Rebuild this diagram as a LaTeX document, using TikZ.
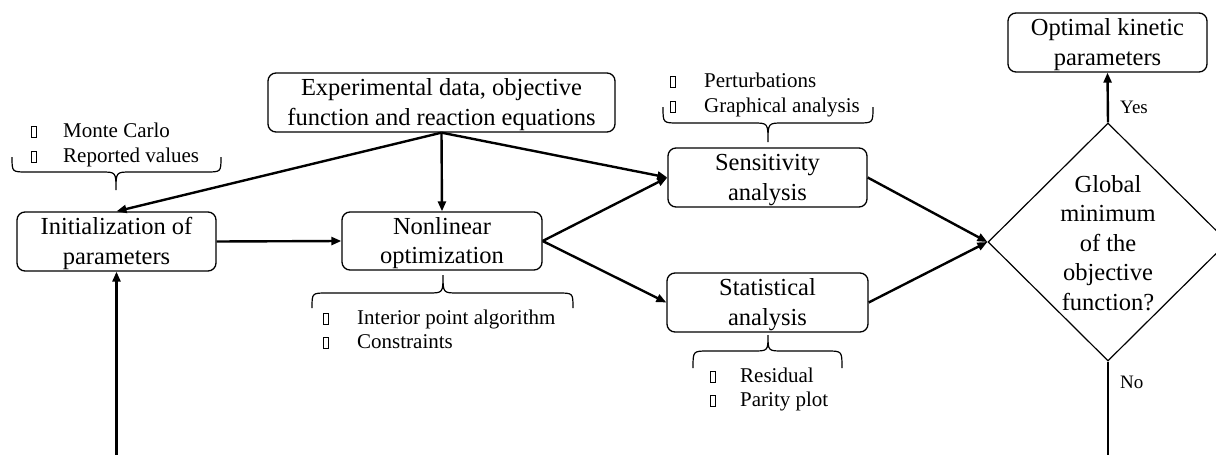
\documentclass[tikz,border=0pt]{standalone}
\usepackage{fontspec}
\setmainfont{Liberation Serif}
\usetikzlibrary{arrows.meta,shapes.geometric}
\newcommand\bigf{\fontsize{24.5}{29.5}\selectfont}
\newcommand\smallf{\fontsize{21}{25}\selectfont}
\newcommand\tstrut{\rule{0pt}{21.5pt}}
\newcommand\bulbox{{\setlength\fboxsep{0pt}\setlength\fboxrule{0.8pt}\fbox{\rule{0pt}{10.5pt}\rule{3.8pt}{0pt}}}}
\newcommand\bul[1]{\makebox[#1pt][l]{\bulbox}}
\newcommand\wbrace[6]{\draw[bracestyle] (#1,#3) .. controls (#1,#4) .. ({#1+15},#4) -- ({#6-15},#4) .. controls (#6,#4) .. (#6,#5) .. controls (#6,#4) .. ({#6+15},#4) -- ({#2-15},#4) .. controls (#2,#4) .. (#2,#3);}
\tikzset{
  box/.style={draw, line width=1.3pt, rounded corners=8pt, minimum width=199pt, minimum height=59pt, inner sep=0pt, align=center, font=\bigf},
  arr/.style={line width=2.4pt, -{Triangle[length=10pt,width=8pt]}},
  item/.style={anchor=base west, inner sep=0pt, font=\smallf},
  lab/.style={anchor=base west, inner sep=0pt, font=\fontsize{19}{22}\selectfont},
  bracestyle/.style={line width=1.2pt}
}
\begin{document}
\begin{tikzpicture}[x=1pt,y=-1pt]
\useasboundingbox (0,0) rectangle (1216,455);
\clip (0,0) rectangle (1216,455);
% boxes
\node[box, minimum width=347pt] (exp) at (441.5,102.5) {\tstrut Experimental data, objective\\function and reaction equations};
\node[box] (init) at (116.5,241.5) {\tstrut Initialization of\\parameters};
\node[box, minimum width=200pt, minimum height=58pt] (nonlin) at (442,241) {\tstrut Nonlinear\\optimization};
\node[box] (sens) at (767.5,177.5) {\tstrut Sensitivity\\analysis};
\node[box, minimum width=201pt] (stat) at (767.5,302.5) {\tstrut Statistical\\analysis};
\node[box] (opt) at (1107.5,42.5) {\tstrut Optimal kinetic\\parameters};
\node[draw, diamond, line width=1.2pt, minimum width=240pt, minimum height=238pt, inner sep=0pt] (dia) at (1108,242) {};
\node[align=center, inner sep=0pt, font=\bigf] (dtext) at (1108,243) {Global\\minimum\\of the\\objective\\function?};
% lists
\node[item] (i1) at (31,137) {\bul{32}Monte Carlo};
\node[item] (i2) at (31,162) {\bul{32}Reported values};
\node[item] (s1) at (670,87) {\bul{34}Perturbations};
\node[item] (s2) at (670,112) {\bul{34}Graphical analysis};
\node[item] (n1) at (323,324) {\bul{34}Interior point algorithm};
\node[item] (n2) at (323,348) {\bul{34}Constraints};
\node[item] (t1) at (710,382) {\bul{30}Residual};
\node[item] (t2) at (710,406) {\bul{30}Parity plot};
% braces
\wbrace{12}{221}{157}{172}{190}{116}
\wbrace{663}{873}{107}{123}{142}{768}
\wbrace{312}{573}{308}{293}{275}{443}
\wbrace{693}{842}{368}{351}{335}{768}
% connectors
\draw[arr] (exp.south) -- (init.north);
\draw[arr] (exp.south) -- (nonlin.north);
\draw[arr] (exp.south) -- (sens.west);
\draw[arr] (init.east) -- (nonlin.west);
\draw[arr] (nonlin.east) -- (sens.west);
\draw[arr] (nonlin.east) -- (stat.west);
\draw[arr] (sens.east) -- (dia.west);
\draw[arr] (stat.east) -- (dia.west);
\draw[arr] (dia.north) -- (opt.south);
\draw[arr] (dia.south) -- ++(0,130) -| (init.south);
\node[lab] (yes) at (1120,113) {Yes};
\node[lab] (no) at (1120,388) {No};
\end{tikzpicture}
\end{document}
